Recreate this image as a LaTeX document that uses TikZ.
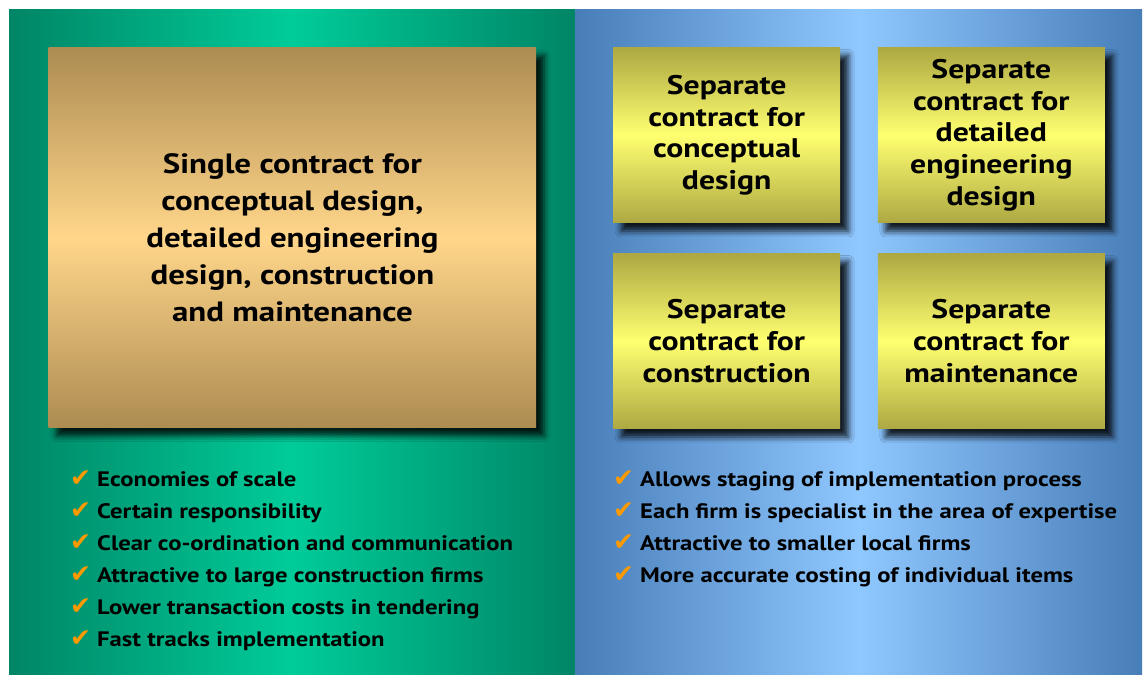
\documentclass[tikz,border=0pt]{standalone}
\usepackage{fontspec}
\setmainfont[FakeStretch=1.18]{PT Sans}
\newfontfamily\checkfont{DejaVu Sans}
\usetikzlibrary{shadows.blur}
\definecolor{gedge}{RGB}{0,133,102}
\definecolor{gmid}{RGB}{0,204,153}
\definecolor{bedge}{RGB}{72,126,184}
\definecolor{bmid}{RGB}{143,199,255}
\definecolor{tanedge}{RGB}{173,140,82}
\definecolor{tanmid}{RGB}{255,214,138}
\definecolor{yedge}{RGB}{173,168,66}
\definecolor{ymid}{RGB}{255,255,112}
\definecolor{tick}{RGB}{255,153,0}
\newcommand{\tk}{\makebox[27bp][l]{\checkfont\color{tick}\fontsize{25}{25}\selectfont ✔}}
\begin{document}
\begin{tikzpicture}[x=1bp,y=-1bp,
  boxshadow/.style={blur shadow={shadow xshift=8bp, shadow yshift=-8bp, shadow blur radius=6bp, shadow opacity=85}},
  bigbox/.style={rectangle, inner sep=0pt, minimum width=487.3bp, minimum height=380bp,
    top color=tanedge, bottom color=tanedge, middle color=tanmid, boxshadow,
    align=center, font=\bfseries\fontsize{28}{37}\selectfont},
  sepbox/.style={rectangle, inner sep=0pt, minimum width=227bp, minimum height=175.5bp,
    top color=yedge, bottom color=yedge, middle color=ymid, boxshadow,
    align=center, font=\bfseries\fontsize{27}{32}\selectfont},
  item/.style={anchor=base west, inner sep=0pt, font=\bfseries\fontsize{21}{21}\selectfont}]
\useasboundingbox (0,0) rectangle (1146,675);
\fill[white] (0,0) rectangle (1146,675);
\shade[left color=gedge, right color=gedge, middle color=gmid] (9,10) rectangle (575.7,675);
\shade[left color=bedge, right color=bedge, middle color=bmid] (575.7,10) rectangle (1142,675);
\node[bigbox] (single) at (292.4,237.7) {Single contract for\\conceptual design,\\detailed engineering\\design, construction\\and maintenance};
\node[sepbox] (concept) at (726.7,135.2) {Separate\\contract for\\conceptual\\design};
\node[sepbox] (detail) at (991.3,135.2) {Separate\\contract for\\detailed\\engineering\\design};
\node[sepbox] (constr) at (726.7,341.2) {Separate\\contract for\\construction};
\node[sepbox] (maint) at (991.3,341.2) {Separate\\contract for\\maintenance};
\foreach \t [count=\i] in {Economies of scale, Certain responsibility, Clear co-ordination and communication, Attractive to large construction firms, Lower transaction costs in tendering, Fast tracks implementation}
  \node[item] (l\i) at (70,{486+32*(\i-1)}) {\tk\t};
\foreach \t [count=\i] in {Allows staging of implementation process, Each firm is specialist in the area of expertise, Attractive to smaller local firms, More accurate costing of individual items}
  \node[item] (r\i) at (613,{486+32*(\i-1)}) {\tk\t};
\end{tikzpicture}
\end{document}
